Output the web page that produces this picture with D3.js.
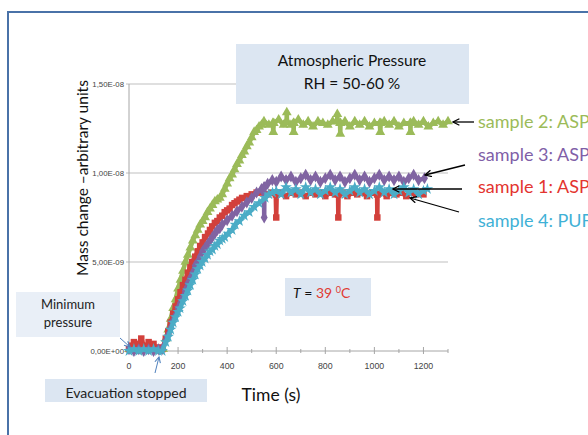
<!DOCTYPE html>
<html lang="en">
<script src="https://d3js.org/d3.v7.min.js"></script>
<head>
    <meta charset="UTF-8">
    <title>Mass change</title>
    <style>
        body { margin: 0; background: #fff; overflow: hidden; }
        svg { display: block; font-family: Lato, "Open Sans", sans-serif; }
    </style>
</head>
<body>
<svg width="588" height="435" id="chart"></svg>
<script>
// ticks
const xTicks = [0, 200, 400, 600, 800, 1000, 1200];
const xMinorTicks = [100, 300, 500, 700, 900, 1100, 1300];
const yTicks = [0, 5, 10, 15];               // x 1e-9
const yTickLabels = ["0,00E+00", "5,00E-09", "1,00E-08", "1,50E-08"];

// series: [time (s), mass change x 1e-9]
const sample2 = [
    [0,0.1],[20,0.2],[40,0.0],[60,0.2],[80,0.1],[100,0.2],[120,0.0],[139,0.1],
    [150,0.7],[160,1.2],[170,1.8],[180,2.4],[190,2.9],[200,3.5],[210,4.0],[220,4.5],[230,5.0],
    [240,5.4],[250,5.8],[260,6.2],[270,6.5],[280,6.8],[290,7.1],[300,7.3],[310,7.5],[320,7.8],
    [330,8.0],[340,8.2],[350,8.4],[360,8.5],[370,8.6],[380,8.8],[390,9.1],[400,9.4],[410,9.7],
    [420,9.9],[430,10.2],[440,10.5],[450,10.7],[460,11.0],[470,11.2],[480,11.5],[490,11.7],
    [500,12.0],[510,12.3],[520,12.4],[530,12.6],[540,12.7],[550,12.9],
    [570,12.7],[586,12.8],[588,12.3],[590,12.8],[610,13.0],[630,12.7],[642,12.9],[643,13.4],
    [644,12.9],[660,12.7],[670,12.8],[671,12.3],[672,12.8],[690,13.0],[710,12.7],[730,12.9],
    [750,12.6],[770,12.9],[790,12.8],[810,12.7],[830,12.9],[848,12.9],[849,13.3],[850,12.9],
    [860,12.8],[861,12.2],[862,12.8],[880,12.9],[900,12.6],[920,12.9],[940,12.7],[960,12.9],
    [980,12.6],[1000,12.8],[1022,12.8],[1024,12.3],[1026,12.8],[1040,12.9],[1060,12.7],
    [1080,12.9],[1100,12.6],[1120,12.8],[1146,12.8],[1147,12.3],[1148,12.8],[1160,12.9],
    [1180,12.7],[1200,12.9],[1220,12.6],[1240,12.8],[1260,12.9],[1280,12.7],[1300,12.9]
];
const sample1 = [
    [0,0.1],[10,0.3],[20,0.5],[30,0.2],[40,0.4],[50,0.7],[60,0.3],[70,0.2],[80,0.5],[90,0.2],
    [100,0.4],[110,0.1],[120,0.2],[135,0.1],
    [150,0.7],[160,1.1],[170,1.6],[180,2.1],[190,2.5],[200,2.9],[210,3.3],[220,3.7],[230,4.0],
    [240,4.4],[250,4.7],[257,5.0],[270,5.3],[280,5.6],[290,5.9],[300,6.1],[310,6.4],[322,6.6],
    [330,6.8],[339,7.0],[350,7.2],[360,7.3],[370,7.5],[380,7.6],[390,7.8],[400,7.9],[410,8.0],
    [420,8.2],[430,8.3],[440,8.4],[450,8.5],[461,8.6],[480,8.7],[500,8.8],[520,8.9],[540,8.9],
    [560,8.8],[580,8.9],[598,8.8],[600,7.5],[602,8.8],[620,8.9],[640,8.7],[660,8.9],[680,8.8],
    [700,8.9],[720,8.7],[740,8.9],[760,8.8],[780,8.9],[800,8.7],[820,8.9],[840,8.8],[852,8.8],
    [853,7.5],[854,8.8],[870,8.9],[890,8.7],[910,8.9],[930,8.8],[950,8.9],[970,8.7],[990,8.9],
    [1011,8.8],[1012,7.5],[1013,8.8],[1030,8.9],[1050,8.7],[1070,8.9],[1090,8.8],[1110,8.9],
    [1130,8.7],[1150,8.9],[1170,8.8],[1190,8.9],[1200,8.8]
];
const sample3 = [
    [0,0.1],[20,0.0],[40,0.1],[60,0.0],[80,0.1],[100,0.0],[120,0.1],[135,0.1],
    [150,0.6],[160,0.9],[170,1.3],[180,1.7],[190,2.0],[200,2.4],[210,2.7],[220,3.0],[230,3.4],
    [240,3.8],[250,4.1],[260,4.4],[270,4.8],[280,5.0],[290,5.3],[300,5.6],[310,5.8],[320,6.0],
    [330,6.2],[340,6.4],[350,6.6],[360,6.8],[370,6.9],[380,7.1],[400,7.35],[420,7.6],[440,7.85],
    [460,8.1],[480,8.35],[500,8.6],[520,8.9],[540,9.1],[550,9.2],[551,7.5],[552,9.2],[565,9.4],
    [584,9.6],[600,9.5],[620,9.8],[640,9.6],[660,9.8],[680,9.5],[700,9.7],[720,9.9],[740,9.6],
    [760,9.8],[780,9.5],[800,9.7],[820,9.9],[840,9.6],[860,9.8],[880,9.5],[900,9.7],[920,9.9],
    [940,9.6],[960,9.8],[980,9.5],[1000,9.7],[1020,9.9],[1040,9.6],[1060,9.8],[1080,9.6],
    [1100,9.8],[1120,9.5],[1140,9.7],[1160,9.9],[1180,9.6],[1204,9.7]
];
const sample4 = [
    [0,0.0],[20,0.1],[40,0.0],[60,0.1],[80,0.0],[100,0.1],[120,0.0],[135,0.0],
    [150,0.5],[160,0.8],[170,1.2],[180,1.6],[190,1.9],[200,2.2],[208,2.4],[220,2.8],[230,3.1],
    [240,3.4],[250,3.7],[260,4.0],[270,4.3],[280,4.6],[290,4.8],[298,5.0],[310,5.2],[320,5.4],
    [330,5.6],[340,5.7],[350,5.9],[360,6.0],[370,6.2],[380,6.3],[390,6.4],[404,6.6],[420,6.8],
    [433,7.1],[450,7.3],[470,7.6],[490,7.8],[510,8.1],[530,8.3],[555,8.6],[570,8.8],[585,8.9],
    [600,9.0],[620,8.8],[640,9.2],[660,8.9],[680,9.1],[700,8.8],[720,9.2],[740,8.9],[760,9.1],
    [780,8.8],[800,9.0],[820,9.2],[840,8.9],[860,9.1],[880,8.8],[900,9.0],[920,9.2],[940,8.9],
    [960,9.1],[980,8.8],[1000,9.0],[1020,9.2],[1040,8.9],[1060,9.1],[1080,8.8],[1100,9.0],
    [1120,9.2],[1140,8.9],[1160,9.1],[1180,8.8],[1200,9.0],[1216,9.1]
];

const seriesList = [
    {data: sample2, color: "#9bbb59", symbol: d3.symbolTriangle},
    {data: sample1, color: "#d2403b", symbol: d3.symbolSquare},
    {data: sample3, color: "#8064a2", symbol: d3.symbolDiamond},
    {data: sample4, color: "#4bacc6", symbol: d3.symbolStar}
];

const legendNames = ["sample 2: ASP", "sample 3: ASP", "sample 1: ASP", "sample 4: PUF"];
const legendColors = ["#9bbb59", "#7f5fa8", "#e3342f", "#3fb1d6"];

const svg = d3.select('#chart');

// frame
svg.append("rect")
    .attr("x", 8).attr("y", 12)
    .attr("width", 620).attr("height", 460)
    .attr("fill", "none")
    .attr("stroke", "#4a72a8")
    .attr("stroke-width", 2);

// scales
const x = d3.scaleLinear().domain([0, 1300]).range([129, 448]);
const y = d3.scaleLinear().domain([0, 15]).range([351, 84]);

// gridlines
yTicks.forEach((t, i) => {
    if (t > 0) {
        svg.append("line")
            .attr("x1", x(0) - 3).attr("x2", x(1300))
            .attr("y1", y(t)).attr("y2", y(t))
            .attr("stroke", "#bfbfbf").attr("stroke-width", 1);
    }
    svg.append("text")
        .attr("x", x(0) - 5)
        .attr("y", y(t) + 2.5)
        .attr("text-anchor", "end")
        .attr("font-family", "Liberation Sans, sans-serif")
        .attr("font-size", 7.8)
        .attr("fill", "#444")
        .text(yTickLabels[i]);
});

// y axis line
svg.append("line")
    .attr("x1", x(0)).attr("x2", x(0))
    .attr("y1", y(15)).attr("y2", y(0))
    .attr("stroke", "#a6a6a6").attr("stroke-width", 1);

// x axis
svg.append("line")
    .attr("x1", x(0)).attr("x2", x(1300))
    .attr("y1", y(0)).attr("y2", y(0))
    .attr("stroke", "#a6a6a6").attr("stroke-width", 1);

xTicks.forEach(t => {
    svg.append("line")
        .attr("x1", x(t)).attr("x2", x(t))
        .attr("y1", y(0) - 4).attr("y2", y(0) + 3)
        .attr("stroke", "#a6a6a6");
    svg.append("text")
        .attr("x", x(t))
        .attr("y", y(0) + 18)
        .attr("text-anchor", "middle")
        .attr("font-family", "Liberation Sans, sans-serif")
        .attr("font-size", 8.8)
        .attr("fill", "#444")
        .text(t);
});
xMinorTicks.forEach(t => {
    svg.append("line")
        .attr("x1", x(t)).attr("x2", x(t))
        .attr("y1", y(0) - 2).attr("y2", y(0) + 2)
        .attr("stroke", "#a6a6a6");
});

// series
const line = d3.line().x(d => x(d[0])).y(d => y(d[1]));
seriesList.forEach(s => {
    svg.append("path")
        .datum(s.data)
        .attr("d", line)
        .attr("fill", "none")
        .attr("stroke", s.color)
        .attr("stroke-width", 4.5)
        .attr("stroke-linejoin", "round");
    svg.append("g")
        .selectAll("path")
        .data(s.data)
        .join("path")
        .attr("transform", d => `translate(${x(d[0])},${y(d[1])})`)
        .attr("d", d3.symbol().type(s.symbol).size(42))
        .attr("fill", s.color);
});

// axis titles
svg.append("text")
    .attr("transform", "translate(88,178) rotate(-90)")
    .attr("text-anchor", "middle")
    .attr("font-size", 15.5)
    .attr("fill", "#111")
    .text("Mass change \u2013arbitrary units");

svg.append("text")
    .attr("x", 271).attr("y", 401)
    .attr("text-anchor", "middle")
    .attr("font-size", 17.5)
    .attr("fill", "#111")
    .text("Time (s)");

// title box
svg.append("rect")
    .attr("x", 236).attr("y", 44)
    .attr("width", 233).attr("height", 60)
    .attr("fill", "#dce6f2");
svg.append("text")
    .attr("x", 352).attr("y", 66)
    .attr("text-anchor", "middle")
    .attr("font-size", 15.5)
    .attr("fill", "#111")
    .text("Atmospheric  Pressure");
svg.append("text")
    .attr("x", 352).attr("y", 89)
    .attr("text-anchor", "middle")
    .attr("font-size", 15.5)
    .attr("fill", "#111")
    .text("RH = 50-60 %");

// temperature box
svg.append("rect")
    .attr("x", 285).attr("y", 278)
    .attr("width", 86).attr("height", 38)
    .attr("fill", "#dce6f2");
const tText = svg.append("text")
    .attr("x", 293).attr("y", 298)
    .attr("font-size", 14)
    .attr("fill", "#111");
tText.append("tspan").attr("font-style", "italic").text("T");
tText.append("tspan").text(" = ");
tText.append("tspan").attr("fill", "#e03a33").text("39 ");
tText.append("tspan").attr("fill", "#e03a33").attr("font-size", 9).attr("dy", -5).text("0");
tText.append("tspan").attr("fill", "#e03a33").attr("dy", 5).text("C");

// minimum pressure box
svg.append("rect")
    .attr("x", 16).attr("y", 292)
    .attr("width", 104).attr("height", 45)
    .attr("fill", "#e9eff7");
svg.append("text")
    .attr("x", 68).attr("y", 309)
    .attr("text-anchor", "middle")
    .attr("font-size", 13)
    .attr("fill", "#222")
    .text("Minimum");
svg.append("text")
    .attr("x", 68).attr("y", 327)
    .attr("text-anchor", "middle")
    .attr("font-size", 13)
    .attr("fill", "#222")
    .text("pressure");

// evacuation box
svg.append("rect")
    .attr("x", 45).attr("y", 379)
    .attr("width", 162).attr("height", 23)
    .attr("fill", "#dce6f2");
svg.append("text")
    .attr("x", 126).attr("y", 398)
    .attr("text-anchor", "middle")
    .attr("font-size", 14)
    .attr("fill", "#222")
    .text("Evacuation stopped");

// arrow heads
const defs = svg.append("defs");
function addMarker(id, color, size) {
    defs.append("marker")
        .attr("id", id)
        .attr("viewBox", "0 0 10 10")
        .attr("refX", 9).attr("refY", 5)
        .attr("markerUnits", "userSpaceOnUse")
        .attr("markerWidth", size).attr("markerHeight", size)
        .attr("orient", "auto")
        .append("path")
        .attr("d", "M1,1 L9,5 L1,9")
        .attr("fill", "none")
        .attr("stroke", color)
        .attr("stroke-width", 1.6);
}
addMarker("blackHead", "#000", 8);
addMarker("blueHead", "#4f81bd", 7);

const blueArrows = [[120, 338, 130, 347], [155, 373, 159, 357]];
blueArrows.forEach(a => {
    svg.append("line")
        .attr("x1", a[0]).attr("y1", a[1]).attr("x2", a[2]).attr("y2", a[3])
        .attr("stroke", "#4f81bd").attr("stroke-width", 1)
        .attr("marker-end", "url(#blueHead)");
});

const blackArrows = [[474, 122, 453, 122], [465, 165, 425, 175], [462, 189, 393, 189], [459, 212, 410, 198]];
blackArrows.forEach(a => {
    svg.append("line")
        .attr("x1", a[0]).attr("y1", a[1]).attr("x2", a[2]).attr("y2", a[3])
        .attr("stroke", "#000").attr("stroke-width", 1.3)
        .attr("marker-end", "url(#blackHead)");
});

// legend labels
const legendY = [128, 161, 193, 227];
legendNames.forEach((name, i) => {
    svg.append("text")
        .attr("x", 478).attr("y", legendY[i])
        .attr("font-size", 18)
        .attr("fill", legendColors[i])
        .text(name);
});
</script>
</body>
</html>
